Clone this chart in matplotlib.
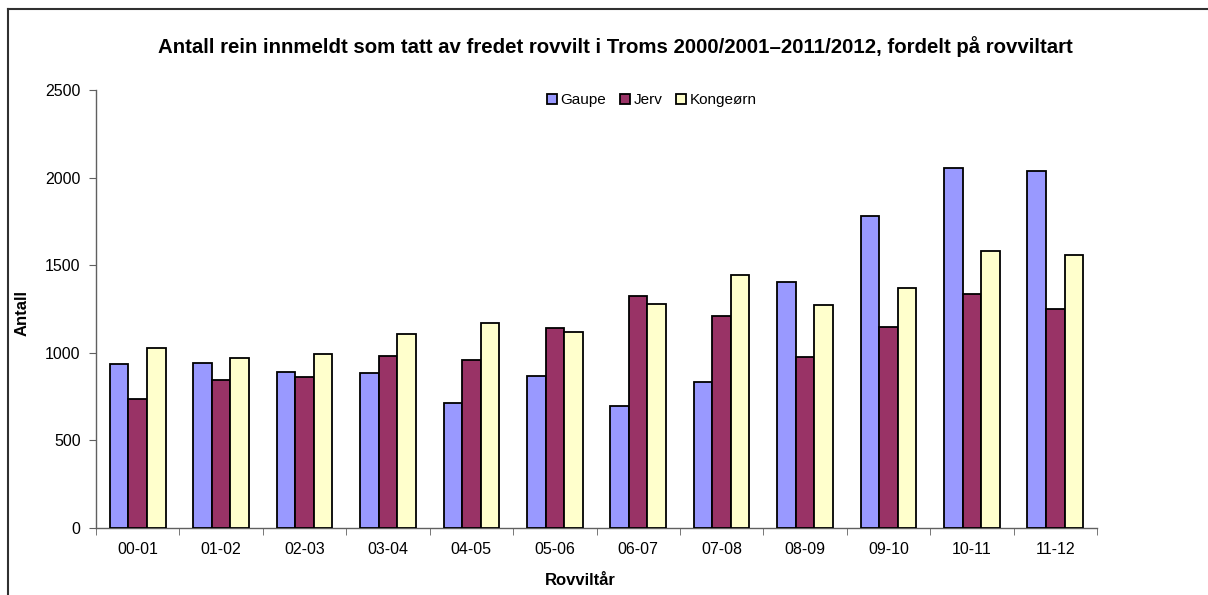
import matplotlib.pyplot as plt
import numpy as np

# Data
seasons = ['00-01', '01-02', '02-03', '03-04', '04-05', '05-06',
           '06-07', '07-08', '08-09', '09-10', '10-11', '11-12']
gaupe = [938, 940, 892, 885, 712, 868, 695, 835, 1402, 1783, 2055, 2040]
jerv = [738, 845, 860, 980, 957, 1144, 1322, 1210, 976, 1149, 1337, 1248]
kongeorn = [1027, 972, 995, 1109, 1172, 1117, 1277, 1446, 1273, 1372, 1581, 1556]
series_names = ['Gaupe', 'Jerv', 'Kongeørn']
colors = ['#9999FF', '#993366', '#FFFFCC']
y_ticks = [0, 500, 1000, 1500, 2000, 2500]

plt.rcParams['font.family'] = ['Liberation Sans', 'DejaVu Sans']

fig = plt.figure(figsize=(12.08, 5.95), dpi=100)
ax = fig.add_axes([96 / 1208, 1 - 528 / 595, (1097 - 96) / 1208, (528 - 90) / 595])

x = np.arange(len(seasons))
w = 1 / 4.5
for i, (vals, name, col) in enumerate(zip([gaupe, jerv, kongeorn], series_names, colors)):
    ax.bar(x + (i - 1) * w, vals, width=w, color=col, edgecolor='black',
           linewidth=1.3, label=name, zorder=3)

ax.set_xlim(-0.5, len(seasons) - 0.5)
ax.set_ylim(0, 2500)
ax.set_yticks(y_ticks)
ax.set_xticks(x)
ax.set_xticklabels(seasons)
ax.set_xticks(np.arange(-0.5, len(seasons)), minor=True)
ax.tick_params(axis='x', which='major', length=0, pad=10, labelsize=11.5)
ax.tick_params(axis='x', which='minor', length=5, color='#606060', direction='out')
ax.tick_params(axis='y', length=5, color='#606060', labelsize=11.5, pad=6)

for s in ['top', 'right']:
    ax.spines[s].set_visible(False)
for s in ['left', 'bottom']:
    ax.spines[s].set_color('#606060')
    ax.spines[s].set_linewidth(1.0)

ax.set_ylabel('Antall', fontsize=12, fontweight='bold')
ax.yaxis.set_label_coords((30 - 96) / 1001, 0.49)
ax.set_xlabel('Rovviltår', fontsize=12, fontweight='bold')
ax.xaxis.set_label_coords((580 - 96) / 1001, -(573 - 528) / 438)

fig.text(615 / 1208, 1 - 47 / 595,
         'Antall rein innmeldt som tatt av fredet rovvilt i Troms 2000/2001–2011/2012, fordelt på rovviltart',
         ha='center', va='center', fontsize=14.7, fontweight='bold')

ax.legend(loc='center', bbox_to_anchor=((652 - 96) / 1001, (528 - 100) / 438),
          ncol=3, frameon=False, fontsize=11, handlelength=0.65, handleheight=0.65,
          handletextpad=0.25, columnspacing=0.9)

# outer chart border (top and left visible)
fig.add_artist(plt.Line2D([8 / 1208, 1.0], [1 - 9 / 595, 1 - 9 / 595],
                          transform=fig.transFigure, color='#303030', linewidth=1.5))
fig.add_artist(plt.Line2D([8 / 1208, 8 / 1208], [0, 1 - 9 / 595],
                          transform=fig.transFigure, color='#303030', linewidth=1.5))

fig.savefig('out.png', dpi=100)
